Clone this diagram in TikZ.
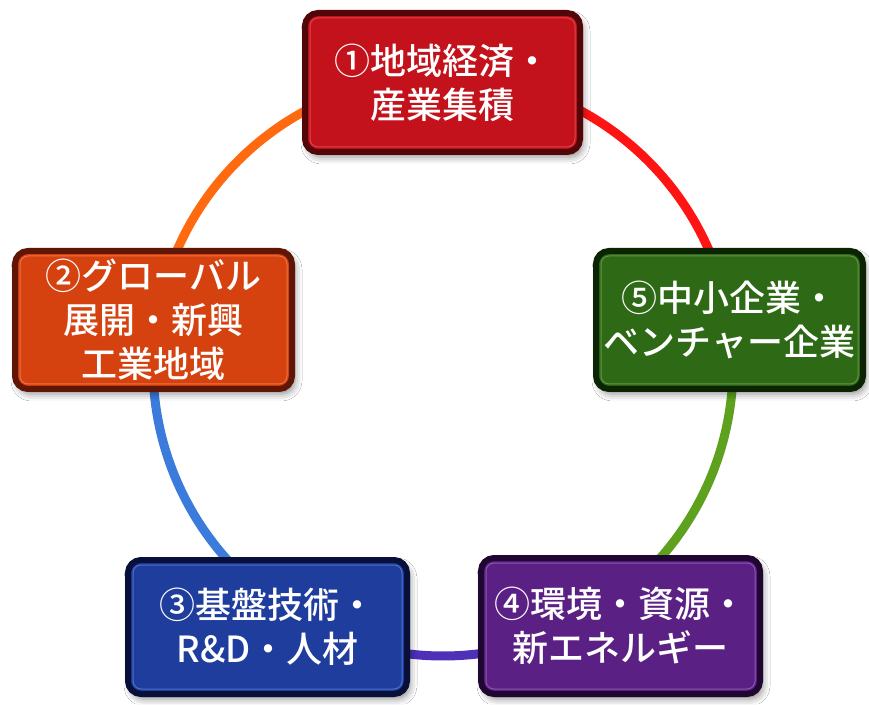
\documentclass[tikz,border=0pt]{standalone}
\usepackage{fontspec}
\newfontfamily\cjk{Noto Sans CJK JP}[UprightFont={* Medium}]
\usetikzlibrary{calc,shadows.blur}
\definecolor{ringOrange}{HTML}{FF6A10}
\definecolor{ringBlue}{HTML}{3A7BDB}
\definecolor{ringIndigo}{HTML}{4F30B8}
\definecolor{ringGreen}{HTML}{5DA11E}
\definecolor{ringRed}{HTML}{FF1414}
\definecolor{fRed}{HTML}{C3121B}\definecolor{dRed}{HTML}{520608}\definecolor{hRed}{HTML}{E8505A}
\definecolor{fOrange}{HTML}{D6420F}\definecolor{dOrange}{HTML}{601604}\definecolor{hOrange}{HTML}{F08050}
\definecolor{fGreen}{HTML}{2E6916}\definecolor{dGreen}{HTML}{0C2304}\definecolor{hGreen}{HTML}{6FA050}
\definecolor{fBlue}{HTML}{1E3D9C}\definecolor{dBlue}{HTML}{08103A}\definecolor{hBlue}{HTML}{5A7FD8}
\definecolor{fPurple}{HTML}{5B2084}\definecolor{dPurple}{HTML}{200732}\definecolor{hPurple}{HTML}{9A60C0}
\tikzset{
  panel/.style 2 args={rectangle, rounded corners=13pt, fill=#1, draw=#2, line width=6pt,
    text=white, align=center, inner sep=0pt,
    font=\cjk\fontsize{36}{44}\selectfont,
    blur shadow={shadow xshift=3pt, shadow yshift=-5pt, shadow blur radius=7pt, shadow opacity=45}},
  ring/.style={line width=9pt},
  gloss/.style={line width=1pt, rounded corners=8pt, opacity=0.8},
}
\begin{document}
\begin{tikzpicture}[x=1pt,y=1pt]
\useasboundingbox[fill=white] (0,0) rectangle (869,704);
\coordinate (O) at (443,338);
\coordinate (a1) at ($(O)+(90:290pt)$);
\coordinate (a2) at ($(O)+(171:290pt)$);
\coordinate (a3) at ($(O)+(236:290pt)$);
\coordinate (a4) at ($(O)+(304:290pt)$);
\coordinate (a5) at ($(O)+(9:290pt)$);
\draw[ring, ringOrange] (a1) arc[start angle=90, end angle=171, radius=290pt];
\draw[ring, ringBlue] (a2) arc[start angle=171, end angle=236, radius=290pt];
\draw[ring, ringIndigo] (a3) arc[start angle=236, end angle=304, radius=290pt];
\draw[ring, ringGreen] (a4) arc[start angle=304, end angle=369, radius=290pt];
\draw[ring, ringRed] (a5) arc[start angle=9, end angle=90, radius=290pt];

\node[panel={fRed}{dRed}, minimum width=275pt, minimum height=139pt] (b1) at (442.5,621.5) {①地域経済・\\産業集積};
\node[panel={fOrange}{dOrange}, minimum width=277pt, minimum height=138pt] (b2) at (153.5,384) {②グローバル\\展開・新興\\工業地域};
\node[panel={fBlue}{dBlue}, minimum width=279pt, minimum height=134pt] (b3) at (267.5,77) {③基盤技術・\\R\&D・人材};
\node[panel={fPurple}{dPurple}, minimum width=279pt, minimum height=136pt] (b4) at (620.5,78) {④環境・資源・\\新エネルギー};
\node[panel={fGreen}{dGreen}, minimum width=267pt, minimum height=138pt] (b5) at (729.5,384) {⑤中小企業・\\ベンチャー企業};

\foreach \b/\h in {b1/hRed, b2/hOrange, b3/hBlue, b4/hPurple, b5/hGreen}
  \draw[gloss, draw=\h] ([shift={(8pt,-8pt)}]\b.north west) rectangle ([shift={(-8pt,8pt)}]\b.south east);
\end{tikzpicture}
\end{document}
